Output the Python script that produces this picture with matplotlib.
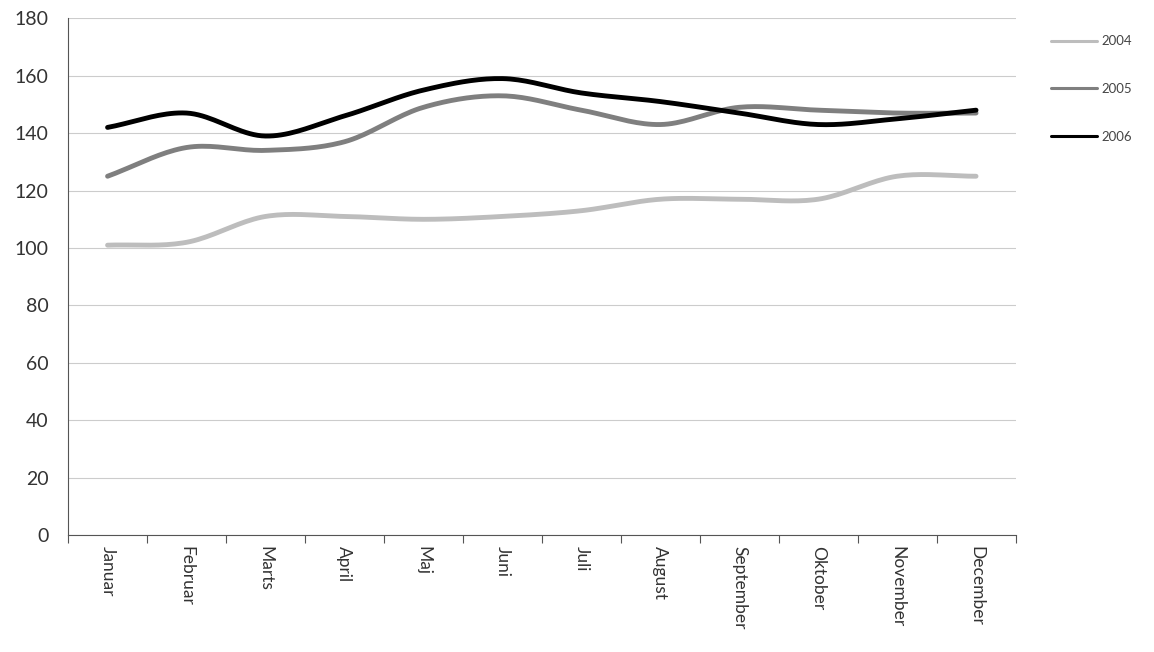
import matplotlib
matplotlib.use("Agg")
import matplotlib.pyplot as plt
import numpy as np

plt.rcParams['font.family'] = ['Lato', 'DejaVu Sans']

months = ["Januar","Februar","Marts","April","Maj","Juni","Juli","August","September","Oktober","November","December"]
s2004 = [101,102,111,111,110,111,113,117,117,117,125,125]
s2005 = [125,135,134,137,149,153,148,143,149,148,147,147]
s2006 = [142,147,139,146,155,159,154,151,147,143,145,148]
series = [("2004", s2004, "#bdbdbd"), ("2005", s2005, "#7f7f7f"), ("2006", s2006, "#000000")]

def smooth(y, n=20):
    y = np.asarray(y, float); x = np.arange(len(y))
    m = np.gradient(y)
    xs, ys = [], []
    for i in range(len(y)-1):
        t = np.linspace(0, 1, n, endpoint=False)
        h00 = 2*t**3-3*t**2+1; h10 = t**3-2*t**2+t; h01 = -2*t**3+3*t**2; h11 = t**3-t**2
        xs.extend(x[i]+t); ys.extend(h00*y[i]+h10*m[i]+h01*y[i+1]+h11*m[i+1])
    xs.append(x[-1]); ys.append(y[-1])
    return np.array(xs), np.array(ys)

fig = plt.figure(figsize=(11.54, 6.52), dpi=100)
ax = fig.add_axes([0.059, 0.179, 0.821, 0.793])
for name, vals, c in series:
    xs, ys = smooth(vals)
    ax.plot(xs, ys, color=c, lw=3.5, label=name, solid_capstyle="round")
ax.set_xlim(-0.5, 11.5)
ax.set_ylim(0, 180)
ax.set_yticks(range(0, 181, 20))
ax.set_xticks(np.arange(-0.5, 12, 1))
ax.set_xticklabels([])
ax.set_xticks(range(12), minor=True)
ax.set_xticklabels(months, minor=True, rotation=-90, fontsize=12.5, color="#333333")
ax.tick_params(axis="x", which="minor", length=0, pad=8)
ax.tick_params(axis="x", which="major", length=6, color="#555555")
ax.tick_params(axis="y", length=0, labelsize=14, labelcolor="#333333", pad=14)
ax.grid(axis="y", color="#cccccc", lw=0.8)
ax.set_axisbelow(True)
for s in ["top", "right"]:
    ax.spines[s].set_visible(False)
ax.spines["left"].set_color("#555555")
ax.spines["bottom"].set_color("#555555")
leg = ax.legend(loc="upper left", bbox_to_anchor=(1.025, 0.99), frameon=False, fontsize=9.5,
          handlelength=3.5, labelspacing=2.7, handletextpad=0.3, labelcolor="#444444")
for ln in leg.get_lines():
    ln.set_linewidth(2.2)
fig.savefig("out.png", dpi=100)
